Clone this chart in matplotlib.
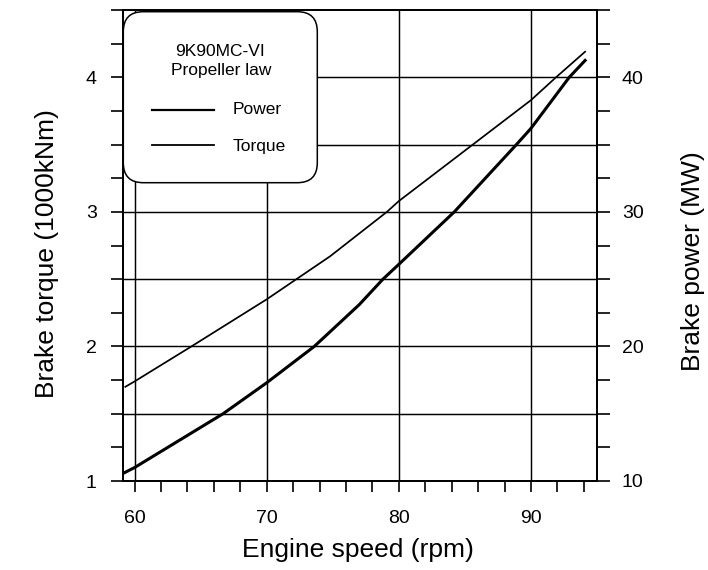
import matplotlib
matplotlib.use('Agg')
import numpy as np
import matplotlib.pyplot as plt
from matplotlib.patches import FancyBboxPatch
from matplotlib.lines import Line2D
from matplotlib.ticker import MultipleLocator, FixedLocator

plt.rcParams['font.family'] = ['Liberation Sans', 'DejaVu Sans']

# ---- data ----
rpm_torque = [59.3, 60.0, 64.3, 70.0, 72.1, 74.8, 79.1, 80.0, 85.6, 90.0, 91.9, 94.1]
torque = [1.70, 1.74, 2.00, 2.35, 2.49, 2.67, 3.00, 3.08, 3.50, 3.83, 4.00, 4.19]

rpm_power = [59.2, 60.0, 66.7, 70.0, 73.6, 77.0, 78.8, 80.0, 84.2, 88.9, 90.0, 92.9, 94.1]
power = [10.6, 11.0, 15.0, 17.3, 20.0, 23.1, 25.0, 26.1, 30.0, 35.0, 36.2, 40.0, 41.25]

x_labels = [60, 70, 80, 90]
torque_labels = [1, 2, 3, 4]
power_labels = [10, 20, 30, 40]
grid_x = [60, 70, 80, 90]
grid_y = [1.5, 2.0, 2.5, 3.0, 3.5, 4.0]

W, H = 708, 570
fig = plt.figure(figsize=(7.08, 5.70), dpi=100)
fig.patch.set_facecolor('white')


def fx(x):
    return x / W


def fy(y):
    return 1 - y / H


ax = fig.add_axes([fx(122.7), fy(481), (597 - 122.7) / W, (481 - 10) / H])
ax.set_xlim(59.1, 95.0)
ax.set_ylim(1, 4.5)
ax2 = ax.twinx()
ax2.set_ylim(10, 45)

for v in grid_x:
    ax.axvline(v, color='black', lw=1.05, zorder=1)
for v in grid_y:
    ax.axhline(v, color='black', lw=1.05, zorder=1)

ax.plot(rpm_torque, torque, color='black', lw=1.25, zorder=3)
ax2.plot(rpm_power, power, color='black', lw=2.2, zorder=3)

ax.set_xticks(x_labels)
ax.xaxis.set_minor_locator(FixedLocator(np.arange(60, 95, 2)))
ax.tick_params(axis='x', which='both', direction='out', length=8, width=1.2,
               labelsize=14, pad=13)
ax.set_yticks(torque_labels)
ax.yaxis.set_minor_locator(MultipleLocator(0.25))
ax.tick_params(axis='y', which='both', direction='out', length=8.6, width=1.2,
               labelsize=14, pad=10)
ax2.set_yticks(power_labels)
ax2.yaxis.set_minor_locator(MultipleLocator(2.5))
ax2.tick_params(axis='y', which='both', direction='out', length=9.3, width=1.2,
                labelsize=14, pad=8.5)

for a in (ax, ax2):
    for s in a.spines.values():
        s.set_linewidth(1.3)

ax.set_xlabel('Engine speed (rpm)', fontsize=19)
ax.xaxis.set_label_coords((358 - 122.7) / 474.3, (481 - 550) / 471)
ax.xaxis.label.set_va('center')

ax.set_ylabel('Brake torque (1000kNm)', fontsize=19)
ax.yaxis.set_label_coords((47 - 122.7) / 474.3, (481 - 254) / 471)
ax.yaxis.label.set_va('center')
ax.yaxis.label.set_ha('center')

ax2.set_ylabel('Brake power (MW)', fontsize=19, rotation=90)
ax2.yaxis.set_label_coords((693 - 122.7) / 474.3, (481 - 261) / 471)
ax2.yaxis.label.set_va('center')
ax2.yaxis.label.set_ha('center')

# ---- legend box ----
box = FancyBboxPatch((1.233, (570 - 182.7) / 100), 1.94, 1.71,
                     boxstyle='round,pad=0,rounding_size=0.2',
                     transform=fig.dpi_scale_trans, facecolor='white',
                     edgecolor='black', lw=1.1, zorder=10)
fig.add_artist(box)

fig.text(fx(220.5), fy(51), '9K90MC-VI', ha='center', va='center', fontsize=12.5, zorder=12)
fig.text(fx(221), fy(71), 'Propeller law', ha='center', va='center', fontsize=12.5, zorder=12)

l1 = Line2D([fx(152), fx(214)], [fy(109.5), fy(109.5)], transform=fig.transFigure,
            color='black', lw=1.6, zorder=11)
l2 = Line2D([fx(152), fx(214)], [fy(145), fy(145)], transform=fig.transFigure,
            color='black', lw=1.3, zorder=11)
fig.add_artist(l1)
fig.add_artist(l2)
fig.text(fx(233), fy(110), 'Power', ha='left', va='center', fontsize=12.5, zorder=12)
fig.text(fx(233), fy(146), 'Torque', ha='left', va='center', fontsize=12.5, zorder=12)

fig.savefig('out.png', dpi=100)
